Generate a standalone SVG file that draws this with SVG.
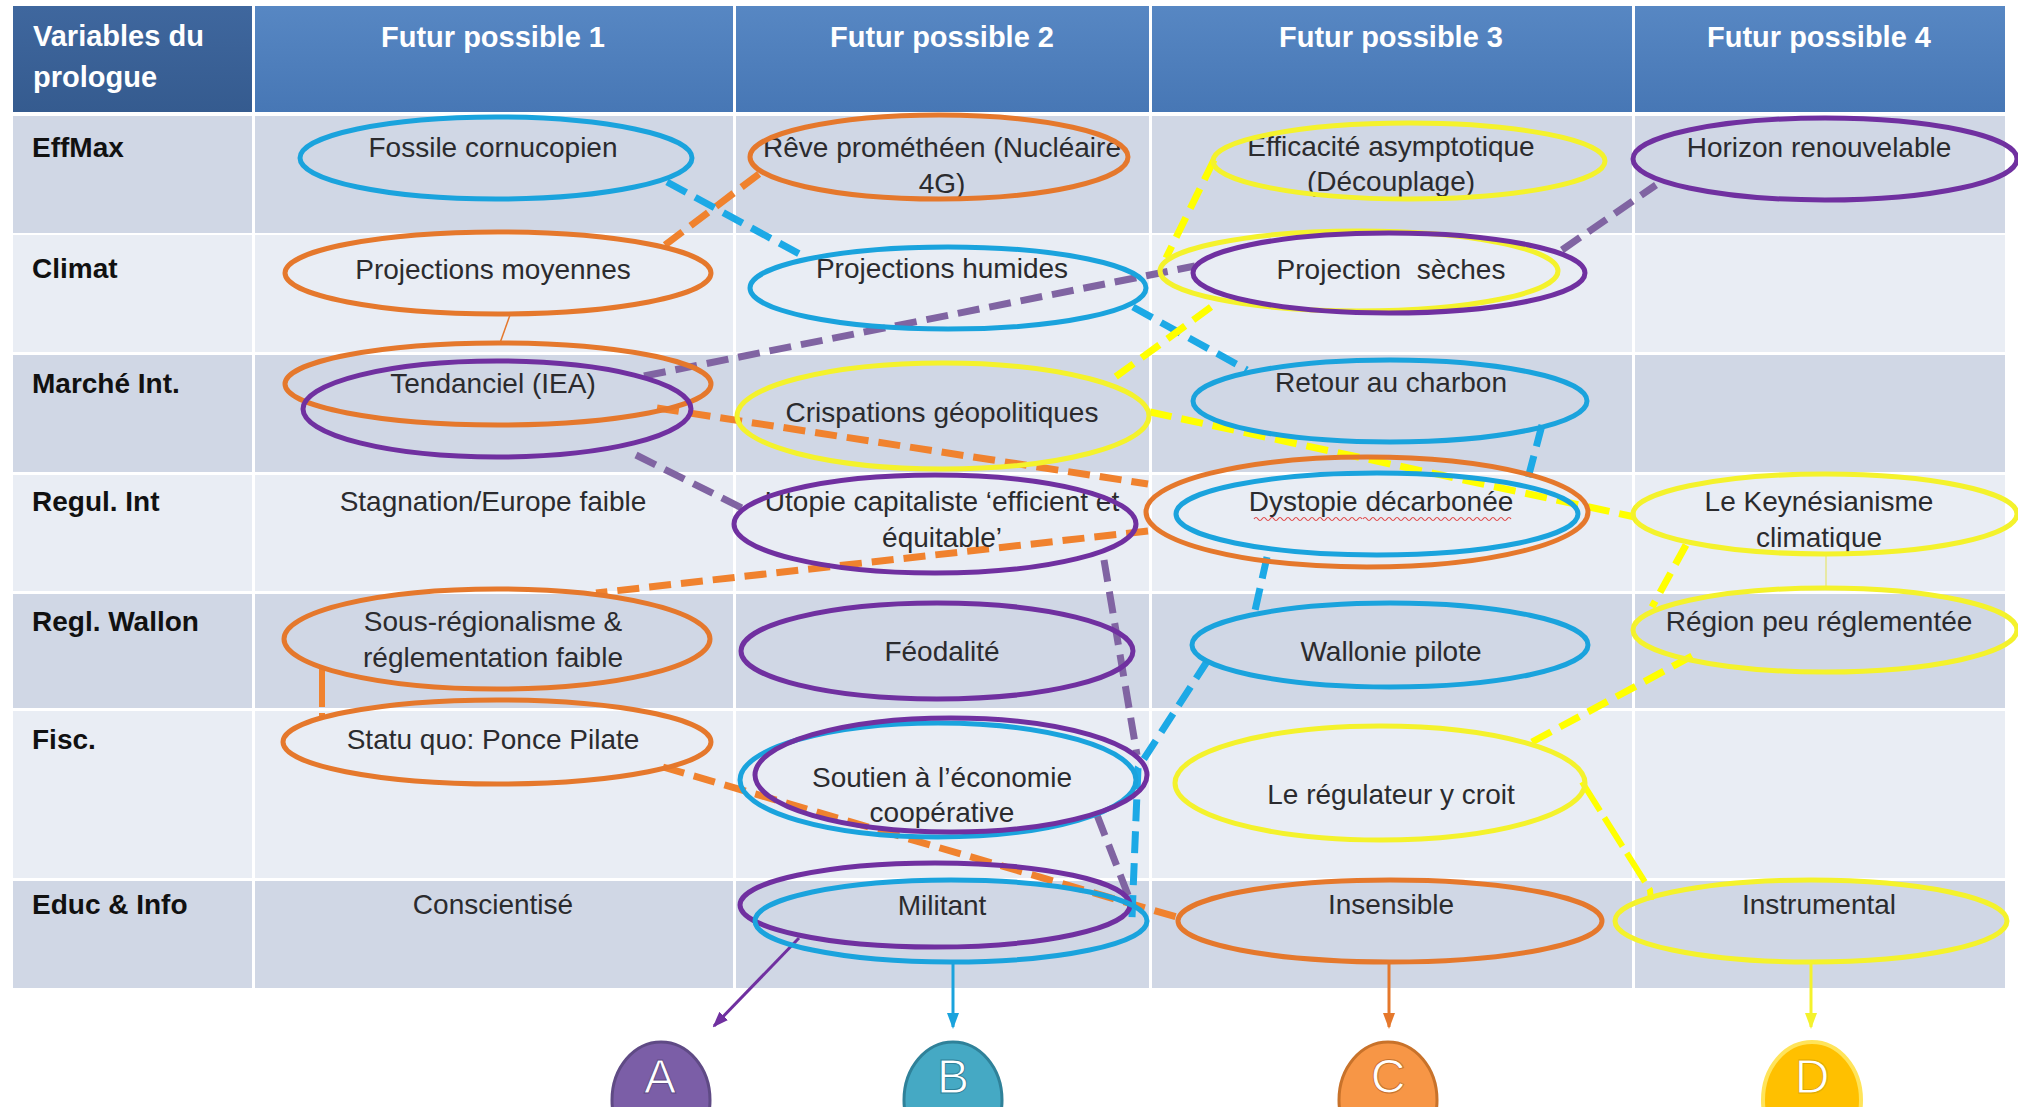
<svg xmlns="http://www.w3.org/2000/svg" width="2018" height="1107" viewBox="0 0 2018 1107">
<defs>
<linearGradient id="hdr" x1="0" y1="0" x2="0" y2="1"><stop offset="0" stop-color="#5787C3"/><stop offset="1" stop-color="#4777B5"/></linearGradient>
<linearGradient id="hdr0" x1="0" y1="0" x2="0" y2="1"><stop offset="0" stop-color="#3F679E"/><stop offset="1" stop-color="#355B8F"/></linearGradient>
<marker id="arP" markerUnits="userSpaceOnUse" markerWidth="16" markerHeight="16" refX="14" refY="8" orient="auto"><path d="M0,2 L16,8 L0,14 z" fill="#7030A0"/></marker>
<marker id="arC" markerUnits="userSpaceOnUse" markerWidth="16" markerHeight="16" refX="14" refY="8" orient="auto"><path d="M0,2 L16,8 L0,14 z" fill="#1AA3DD"/></marker>
<marker id="arO" markerUnits="userSpaceOnUse" markerWidth="16" markerHeight="16" refX="14" refY="8" orient="auto"><path d="M0,2 L16,8 L0,14 z" fill="#E5782C"/></marker>
<marker id="arY" markerUnits="userSpaceOnUse" markerWidth="16" markerHeight="16" refX="14" refY="8" orient="auto"><path d="M0,2 L16,8 L0,14 z" fill="#F4F22C"/></marker>
</defs>
<style>
text{font-family:"Liberation Sans",Arial,sans-serif;}
.h{font-size:29px;font-weight:bold;fill:#FFFFFF;}
.lbl{font-size:28px;font-weight:bold;fill:#111111;}
.t{font-size:28px;fill:#2B2B2E;text-anchor:middle;}
.dk{fill:#D0D7E5;}
.lt{fill:#E9EDF4;}
.e{fill:none;stroke-width:5;}
.eo{stroke:#E5782C;}
.ec{stroke:#1AA3DD;}
.ep{stroke:#7030A0;}
.ey{stroke:#F4F22C;}
.d{fill:none;stroke-width:7;stroke-dasharray:22 10;}
.do{stroke:#F0822E;}
.dc{stroke:#1CA9E6;}
.dp{stroke:#8064A2;}
.dy{stroke:#FFFF00;}
.ab{fill:none;stroke-width:3;}
.circ{font-size:48px;fill:#FFFFFF;text-anchor:middle;stroke-width:1;}
</style>
<rect x="0" y="0" width="2018" height="1107" fill="#FFFFFF"/>
<g id="table">
<rect x="13" y="6" width="239" height="106" fill="url(#hdr0)"/>
<rect x="255" y="6" width="478" height="106" fill="url(#hdr)"/>
<rect x="736" y="6" width="413" height="106" fill="url(#hdr)"/>
<rect x="1152" y="6" width="480" height="106" fill="url(#hdr)"/>
<rect x="1635" y="6" width="370" height="106" fill="url(#hdr)"/>
<rect class="dk" x="13" y="116" width="1992" height="117"/>
<rect class="lt" x="13" y="235" width="1992" height="117"/>
<rect class="dk" x="13" y="355" width="1992" height="117"/>
<rect class="lt" x="13" y="475" width="1992" height="116"/>
<rect class="dk" x="13" y="594" width="1992" height="114"/>
<rect class="lt" x="13" y="711" width="1992" height="167"/>
<rect class="dk" x="13" y="881" width="1992" height="107"/>
<g stroke="#FFFFFF" stroke-width="3">
<line x1="253.5" y1="112" x2="253.5" y2="990"/>
<line x1="734.5" y1="112" x2="734.5" y2="990"/>
<line x1="1150.5" y1="112" x2="1150.5" y2="990"/>
<line x1="1633.5" y1="112" x2="1633.5" y2="990"/>
</g>
<text class="h" x="33" y="46">Variables du</text>
<text class="h" x="33" y="87">prologue</text>
<text class="h" x="493" y="47" text-anchor="middle">Futur possible 1</text>
<text class="h" x="942" y="47" text-anchor="middle">Futur possible 2</text>
<text class="h" x="1391" y="47" text-anchor="middle">Futur possible 3</text>
<text class="h" x="1819" y="47" text-anchor="middle">Futur possible 4</text>
<text class="lbl" x="32" y="157">EffMax</text>
<text class="lbl" x="32" y="278">Climat</text>
<text class="lbl" x="32" y="393">Marché Int.</text>
<text class="lbl" x="32" y="511">Regul. Int</text>
<text class="lbl" x="32" y="631">Regl. Wallon</text>
<text class="lbl" x="32" y="749">Fisc.</text>
<text class="lbl" x="32" y="914">Educ &amp; Info</text>
</g>
<g id="connectors">
<line class="d do" x1="665" y1="245" x2="759" y2="174"/>
<line x1="510" y1="315" x2="500" y2="343" stroke="#E5782C" stroke-width="1.5"/>
<line class="d do" x1="657" y1="408" x2="1148" y2="484"/>
<line class="d do" x1="1148" y1="531" x2="596" y2="593"/>
<line x1="322" y1="667" x2="322" y2="717" stroke="#F0822E" stroke-width="6" stroke-dasharray="40 6"/>
<line class="d do" x1="663" y1="767" x2="1180" y2="918"/>
<line class="d dc" x1="667" y1="182" x2="805" y2="257"/>
<line class="d dc" x1="1133" y1="307" x2="1247" y2="370"/>
<line class="d dc" x1="1542" y1="425" x2="1527" y2="482"/>
<line class="d dc" x1="1267" y1="557" x2="1254" y2="615"/>
<polyline class="d dc" points="1208,660 1138,768 1132,918"/>
<line class="d dp" x1="644" y1="376" x2="1195" y2="266"/>
<line class="d dp" x1="1562" y1="250" x2="1656" y2="185"/>
<line class="d dp" x1="636" y1="455" x2="742" y2="508"/>
<line class="d dp" x1="1104" y1="560" x2="1137" y2="755"/>
<line class="d dp" x1="1097" y1="815" x2="1130" y2="900"/>
<line class="d dy" x1="1214" y1="160" x2="1166" y2="258"/>
<line class="d dy" x1="1211" y1="307" x2="1114" y2="378"/>
<line class="d dy" x1="1150" y1="412" x2="1635" y2="517"/>
<line class="d dy" x1="1686" y1="545" x2="1652" y2="607"/>
<line x1="1826" y1="554" x2="1826" y2="588" stroke="#E6E68A" stroke-width="1.5"/>
<line class="d dy" x1="1692" y1="656" x2="1532" y2="742"/>
<polyline class="dy" fill="none" stroke-width="6" stroke-dasharray="34 8" points="1582,782 1650,890 1651,900"/>
<line class="ab" stroke="#7030A0" x1="799" y1="938" x2="714" y2="1026" marker-end="url(#arP)"/>
<line class="ab" stroke="#1AA3DD" x1="953" y1="963" x2="953" y2="1027" marker-end="url(#arC)"/>
<line class="ab" stroke="#E5782C" x1="1389" y1="962" x2="1389" y2="1027" marker-end="url(#arO)"/>
<line class="ab" stroke="#F4F22C" x1="1811" y1="962" x2="1811" y2="1027" marker-end="url(#arY)"/>
</g>
<g id="n-fossile"><text class="t" x="493" y="157">Fossile cornucopien</text><ellipse class="e ec" cx="496" cy="158" rx="196" ry="41"/></g>
<g id="n-reve"><text class="t" x="942" y="157">Rêve prométhéen (Nucléaire</text><text class="t" x="942" y="193">4G)</text><ellipse class="e eo" cx="939" cy="157" rx="189" ry="42"/></g>
<g id="n-efficacite"><text class="t" x="1391" y="156">Efficacité asymptotique</text><text class="t" x="1391" y="191">(Découplage)</text><ellipse class="e ey" cx="1409" cy="161" rx="196" ry="38"/></g>
<g id="n-horizon"><text class="t" x="1819" y="157">Horizon renouvelable</text><ellipse class="e ep" cx="1825" cy="159" rx="192" ry="41"/></g>
<g id="n-moyennes"><text class="t" x="493" y="279">Projections moyennes</text><ellipse class="e eo" cx="498" cy="273" rx="213" ry="41"/></g>
<g id="n-humides"><text class="t" x="942" y="278">Projections humides</text><ellipse class="e ec" cx="948" cy="288" rx="198" ry="41"/></g>
<g id="n-seches"><text class="t" x="1391" y="279">Projection&#160; sèches</text><ellipse class="e ey" cx="1359" cy="271" rx="199" ry="40"/><ellipse class="e ep" cx="1389" cy="273" rx="196" ry="40"/></g>
<g id="n-tendanciel"><text class="t" x="493" y="393">Tendanciel (IEA)</text><ellipse class="e eo" cx="498" cy="384" rx="213" ry="41"/><ellipse class="e ep" cx="497" cy="409" rx="194" ry="48"/></g>
<g id="n-crispations"><text class="t" x="942" y="422">Crispations géopolitiques</text><ellipse class="e ey" cx="943" cy="416" rx="206" ry="53"/></g>
<g id="n-charbon"><text class="t" x="1391" y="392">Retour au charbon</text><ellipse class="e ec" cx="1390" cy="401" rx="197" ry="41"/></g>
<g id="n-stagnation"><text class="t" x="493" y="511">Stagnation/Europe faible</text></g>
<g id="n-utopie"><text class="t" x="942" y="511">Utopie capitaliste ‘efficient et</text><text class="t" x="942" y="547">équitable’</text><ellipse class="e ep" cx="935" cy="524" rx="201" ry="49"/></g>
<g id="n-dystopie"><text class="t" x="1381" y="511">Dystopie décarbonée</text><path d="M1254,519 q2,-3 4,0 t4,0 t4,0 t4,0 t4,0 t4,0 t4,0 t4,0 t4,0 t4,0 t4,0 t4,0 t4,0 t4,0 t4,0 t4,0 t4,0 t4,0 t4,0 t4,0 t4,0 t4,0 t4,0 t4,0 t4,0 t4,0 t4,0 M1363,519 q2,-3 4,0 t4,0 t4,0 t4,0 t4,0 t4,0 t4,0 t4,0 t4,0 t4,0 t4,0 t4,0 t4,0 t4,0 t4,0 t4,0 t4,0 t4,0 t4,0 t4,0 t4,0 t4,0 t4,0 t4,0 t4,0 t4,0 t4,0 t4,0 t4,0 t4,0 t4,0 t4,0 t4,0 t4,0 t4,0 t4,0 t4,0" fill="none" stroke="#E04848" stroke-width="1.2"/><ellipse class="e eo" cx="1367" cy="512" rx="221" ry="55"/><ellipse class="e ec" cx="1377" cy="514" rx="201" ry="41"/></g>
<g id="n-keynes"><text class="t" x="1819" y="511">Le Keynésianisme</text><text class="t" x="1819" y="547">climatique</text><ellipse class="e ey" cx="1825" cy="514" rx="192" ry="40"/></g>
<g id="n-sousreg"><text class="t" x="493" y="631">Sous-régionalisme &amp;</text><text class="t" x="493" y="667">réglementation faible</text><ellipse class="e eo" cx="497" cy="639" rx="213" ry="50"/></g>
<g id="n-feodalite"><text class="t" x="942" y="661">Féodalité</text><ellipse class="e ep" cx="937" cy="651" rx="196" ry="48"/></g>
<g id="n-wallonie"><text class="t" x="1391" y="661">Wallonie pilote</text><ellipse class="e ec" cx="1390" cy="645" rx="198" ry="42"/></g>
<g id="n-region"><text class="t" x="1819" y="631">Région peu réglementée</text><ellipse class="e ey" cx="1825" cy="630" rx="192" ry="42"/></g>
<g id="n-statuquo"><text class="t" x="493" y="749">Statu quo: Ponce Pilate</text><ellipse class="e eo" cx="497" cy="742" rx="214" ry="42"/></g>
<g id="n-soutien"><text class="t" x="942" y="787">Soutien à l’économie</text><text class="t" x="942" y="822">coopérative</text><ellipse class="e ec" cx="938" cy="780" rx="198" ry="57"/><ellipse class="e ep" cx="951" cy="775" rx="196" ry="57"/></g>
<g id="n-regulateur"><text class="t" x="1391" y="804">Le régulateur y croit</text><ellipse class="e ey" cx="1380" cy="783" rx="205" ry="57"/></g>
<g id="n-conscientise"><text class="t" x="493" y="914">Conscientisé</text></g>
<g id="n-militant"><text class="t" x="942" y="915">Militant</text><ellipse class="e ep" cx="935" cy="905" rx="195" ry="42"/><ellipse class="e ec" cx="951" cy="921" rx="196" ry="41"/></g>
<g id="n-insensible"><text class="t" x="1391" y="914">Insensible</text><ellipse class="e eo" cx="1390" cy="921" rx="212" ry="41"/></g>
<g id="n-instrumental"><text class="t" x="1819" y="914">Instrumental</text><ellipse class="e ey" cx="1811" cy="921" rx="196" ry="41"/></g>
<g id="n-A"><ellipse cx="661" cy="1100" rx="49" ry="58" fill="#7B5EA7" stroke="#5F4A85" stroke-width="3"/><text class="circ" x="660" y="1093" stroke="#5F4A85">A</text></g>
<g id="n-B"><ellipse cx="953" cy="1100" rx="49" ry="58" fill="#45A9C4" stroke="#2F8199" stroke-width="3"/><text class="circ" x="953" y="1093" stroke="#2F8199">B</text></g>
<g id="n-C"><ellipse cx="1388" cy="1100" rx="49" ry="58" fill="#F79646" stroke="#C8722A" stroke-width="3"/><text class="circ" x="1388" y="1093" stroke="#C8722A">C</text></g>
<g id="n-D"><ellipse cx="1812" cy="1100" rx="49" ry="58" fill="#FFC000" stroke="#FFE45A" stroke-width="4"/><text class="circ" x="1812" y="1093" stroke="#E0A800">D</text></g>
</svg>
